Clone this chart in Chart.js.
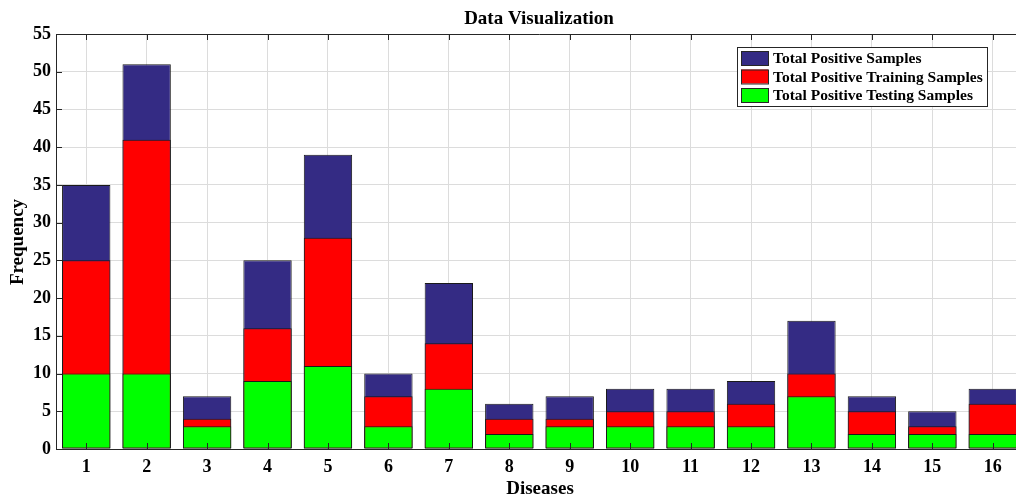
<!DOCTYPE html>
<html>
<head>
<meta charset="utf-8">
<script src="https://cdn.jsdelivr.net/npm/chart.js@4.4.1/dist/chart.umd.min.js"></script>
<style>
  html, body { margin: 0; padding: 0; background: #fff; overflow: hidden; }
  #wrap { position: relative; width: 1030px; height: 500px; }
</style>
</head>
<body>
<div id="wrap"><canvas id="c"></canvas></div>
<script>
// Disease categories and per-disease sample counts
const diseases = ['1','2','3','4','5','6','7','8','9','10','11','12','13','14','15','16'];
const totalPositive    = [35, 51, 7, 25, 39, 10, 22, 6, 7, 8, 8, 9, 17, 7, 5, 8];
const trainingPositive = [25, 41, 4, 16, 28, 7, 14, 4, 4, 5, 5, 6, 10, 5, 3, 6];
const testingPositive  = [10, 10, 3, 9, 11, 3, 8, 2, 3, 3, 3, 3, 7, 2, 2, 2];
const yTicks = [0, 5, 10, 15, 20, 25, 30, 35, 40, 45, 50, 55];

const seriesLabels = ['Total Positive Samples', 'Total Positive Training Samples', 'Total Positive Testing Samples'];
const seriesColors = ['#342b84', '#ff0000', '#00ff00'];

const FONT = '"Liberation Serif", "Times New Roman", serif';
const edge = '#262626';

// Titles, box outline, inward tick marks and the legend box
const decorations = {
  id: 'decorations',
  afterDraw(chart) {
    const { ctx, chartArea: a, scales } = chart;
    ctx.save();
    // box outline on top and right
    ctx.strokeStyle = edge;
    ctx.lineWidth = 1;
    ctx.beginPath();
    ctx.moveTo(a.left, a.top + 0.5); ctx.lineTo(a.right, a.top + 0.5);
    ctx.moveTo(a.right - 0.5, a.top); ctx.lineTo(a.right - 0.5, a.bottom);
    ctx.stroke();
    // inward ticks
    ctx.beginPath();
    diseases.forEach((d, i) => {
      const x = Math.round(scales.x.getPixelForValue(i)) + 0.5;
      ctx.moveTo(x, a.top); ctx.lineTo(x, a.top + 6);
      ctx.moveTo(x, a.bottom); ctx.lineTo(x, a.bottom - 6);
    });
    yTicks.forEach(v => {
      const y = Math.round(scales.y.getPixelForValue(v)) + 0.5;
      ctx.moveTo(a.left, y); ctx.lineTo(a.left + 6, y);
      ctx.moveTo(a.right, y); ctx.lineTo(a.right - 6, y);
    });
    ctx.stroke();

    // chart title
    ctx.fillStyle = '#000';
    ctx.font = 'bold 19px ' + FONT;
    ctx.textAlign = 'center';
    ctx.textBaseline = 'middle';
    ctx.fillText('Data Visualization', 539, 19);
    // axis titles
    ctx.fillText('Diseases', 540, 489);
    ctx.save();
    ctx.translate(18, 242);
    ctx.rotate(-Math.PI / 2);
    ctx.fillText('Frequency', 0, 0);
    ctx.restore();

    // legend
    const lx = 737, ly = 47, lw = 250, lh = 59;
    ctx.fillStyle = '#fff';
    ctx.fillRect(lx, ly, lw, lh);
    ctx.strokeStyle = edge;
    ctx.strokeRect(lx + 0.5, ly + 0.5, lw, lh);
    ctx.font = 'bold 15.5px ' + FONT;
    ctx.textAlign = 'left';
    seriesLabels.forEach((lab, i) => {
      const cy = 58 + i * 18.5;
      ctx.fillStyle = seriesColors[i];
      ctx.fillRect(741, cy - 7, 27, 14);
      ctx.strokeStyle = edge;
      ctx.strokeRect(741.5, cy - 6.5, 27, 14);
      ctx.fillStyle = '#000';
      ctx.fillText(lab, 773, cy + 1);
    });
    ctx.restore();
  }
};

// Testing drawn on top, total at the back
const datasets = [
  { label: seriesLabels[2], data: testingPositive,  backgroundColor: seriesColors[2], order: 0 },
  { label: seriesLabels[1], data: trainingPositive, backgroundColor: seriesColors[1], order: 1 },
  { label: seriesLabels[0], data: totalPositive,    backgroundColor: seriesColors[0], order: 2 }
].map(d => Object.assign(d, {
  borderColor: '#1a1a1a', borderWidth: 1, borderSkipped: false,
  barPercentage: 0.8, categoryPercentage: 1.0
}));

new Chart(document.getElementById('c'), {
  type: 'bar',
  data: { labels: diseases, datasets },
  options: {
    responsive: true,
    maintainAspectRatio: false,
    animation: false,
    layout: { padding: { top: 34, right: 7, left: 0, bottom: 0 } },
    plugins: { legend: { display: false }, tooltip: { enabled: false }, title: { display: false } },
    scales: {
      x: {
        stacked: true,
        offset: true,
        afterFit(s) { s.height = 51; },
        grid: { color: '#dcdcdc', drawTicks: false, offset: false },
        border: { color: edge, width: 1 },
        ticks: { color: '#000', font: { family: FONT, size: 18, weight: 'bold' }, padding: 8, maxRotation: 0 }
      },
      y: {
        stacked: false,
        min: 0, max: 55,
        afterFit(s) { s.width = 56; },
        afterBuildTicks(s) { s.ticks = yTicks.map(v => ({ value: v })); },
        grid: { color: '#dcdcdc', drawTicks: false },
        border: { color: edge, width: 1 },
        ticks: { color: '#000', font: { family: FONT, size: 18, weight: 'bold' }, padding: 5 }
      }
    }
  },
  plugins: [decorations]
});
</script>
</body>
</html>
